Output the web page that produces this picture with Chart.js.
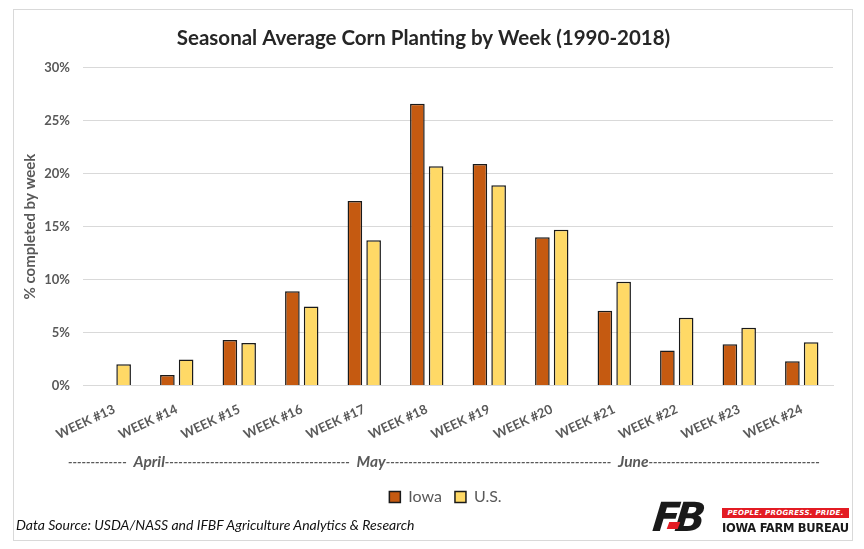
<!DOCTYPE html>
<html>
<head>
<meta charset="utf-8">
<script src="https://cdn.jsdelivr.net/npm/chart.js@4"></script>
<style>
  html, body { margin: 0; padding: 0; background: #fff; }
  #wrap { position: relative; width: 864px; height: 549px; overflow: hidden; }
  #frame { position: absolute; left: 13px; top: 9px; width: 838px; height: 530px; border: 1px solid #d9d9d9; }
  canvas { position: absolute; left: 0; top: 0; }
  #source { position: absolute; left: 16px; top: 516px; font: italic 14px Lato, sans-serif; color: #111; white-space: nowrap; }
  #logo { position: absolute; left: 646px; top: 500px; width: 206px; height: 40px; background: #fff; }
  #fb { position: absolute; left: 7px; top: -6px; font: italic 900 40px "DejaVu Sans", sans-serif; color: #1a1a1a; letter-spacing: -5px; transform: skewX(-6deg); }
  #fbred { position: absolute; left: 22px; top: 22px; width: 11px; height: 7px; background: #e31b23; transform: skewX(-20deg); }
  #banner { position: absolute; left: 76px; top: 8px; width: 127px; height: 10px; background: #e31b23; color: #fff; font: italic 900 7px "DejaVu Sans", sans-serif; line-height: 10px; text-align: center; letter-spacing: 0.3px; }
  #ifb { position: absolute; left: 76px; top: 21px; font: 900 11.5px "DejaVu Sans", sans-serif; color: #1a1a1a; white-space: nowrap; letter-spacing: -0.3px; }
</style>
</head>
<body>
<div id="wrap">
  <div id="frame"></div>
  <canvas id="c" width="864" height="549"></canvas>
  <div id="source">Data Source: USDA/NASS and IFBF Agriculture Analytics &amp; Research</div>
  <div id="logo">
    <div id="fb">FB</div>
    <div id="fbred"></div>
    <div id="banner">PEOPLE. PROGRESS. PRIDE.</div>
    <div id="ifb">IOWA FARM BUREAU</div>
  </div>
</div>
<script>
const weeks = ['WEEK #13','WEEK #14','WEEK #15','WEEK #16','WEEK #17','WEEK #18','WEEK #19','WEEK #20','WEEK #21','WEEK #22','WEEK #23','WEEK #24'];
const iowa = [0, 1.0, 4.3, 8.9, 17.4, 26.6, 20.9, 14.0, 7.05, 3.3, 3.9, 2.3];
const us = [2.0, 2.45, 4.0, 7.45, 13.7, 20.7, 18.9, 14.7, 9.8, 6.4, 5.45, 4.08];
const yTicks = [0, 5, 10, 15, 20, 25, 30];
const monthNames = ['April', 'May', 'June'];
const dashRuns = ['-------------', '-----------------------------------------', '--------------------------------------------------', '--------------------------------------'];

const grey = '#595959';

const monthPlugin = {
  id: 'monthLine',
  afterLayout(chart) {
    if (chart.legend) { chart.legend.left += 22; chart.legend.right += 22; }
  },
  afterDraw(chart) {
    const ctx = chart.ctx;
    ctx.save();
    ctx.fillStyle = grey;
    ctx.textBaseline = 'alphabetic';
    ctx.textAlign = 'left';
    let x = chart.chartArea.left - 15;
    const y = 467;
    const small = 'italic bold 13px Lato, sans-serif';
    const big = 'italic bold 15.5px Lato, sans-serif';
    dashRuns.forEach((d, i) => {
      ctx.font = small;
      ctx.fillText(d, x, y);
      x += ctx.measureText(d).width;
      if (i < monthNames.length) {
        ctx.font = big;
        const t = '  ' + monthNames[i];
        ctx.fillText(t, x, y);
        x += ctx.measureText(t).width;
      }
    });
    ctx.restore();
  }
};

new Chart(document.getElementById('c'), {
  type: 'bar',
  data: {
    labels: weeks,
    datasets: [
      { label: 'Iowa', data: iowa, backgroundColor: '#C55A11', borderColor: '#1a1a1a', borderWidth: 1.5 },
      { label: 'U.S.', data: us, backgroundColor: '#FFD966', borderColor: '#1a1a1a', borderWidth: 1.5 }
    ]
  },
  options: {
    responsive: false,
    animation: false,
    categoryPercentage: 0.6,
    barPercentage: 0.78,
    layout: { padding: { left: 14, right: 31, top: 0, bottom: 34 } },
    plugins: {
      title: {
        display: true,
        text: 'Seasonal Average Corn Planting by Week (1990-2018)',
        font: { family: 'Lato', size: 20.5, weight: 'bold' },
        color: '#262626',
        padding: { top: 26, bottom: 17 }
      },
      legend: {
        position: 'bottom',
        labels: {
          boxWidth: 11, boxHeight: 11, color: grey,
          font: { family: 'Lato', size: 16 },
          padding: 13
        }
      },
      tooltip: { enabled: false }
    },
    scales: {
      x: {
        grid: { display: false },
        border: { color: '#d9d9d9', width: 1 },
        ticks: {
          color: grey, font: { family: 'Lato', size: 13, weight: 'bold' },
          maxRotation: 25, minRotation: 25, padding: 8
        },
        title: { display: true, text: ' ', font: { size: 13 }, padding: { top: 4, bottom: 6 } }
      },
      y: {
        min: 0, max: 30,
        afterBuildTicks(axis) { axis.ticks = yTicks.map(v => ({ value: v })); },
        afterFit(axis) { axis.width = 69; },
        grid: { color: '#d9d9d9', drawTicks: false },
        border: { display: false },
        ticks: {
          color: grey, font: { family: 'Lato', size: 13, weight: 'bold' },
          padding: 13,
          callback: v => v + '%'
        },
        title: {
          display: true, text: '% completed by week', color: grey,
          font: { family: 'Lato', size: 15, weight: 'bold' }, padding: { top: 7, bottom: 0 }
        }
      }
    }
  },
  plugins: [monthPlugin]
});
</script>
</body>
</html>
